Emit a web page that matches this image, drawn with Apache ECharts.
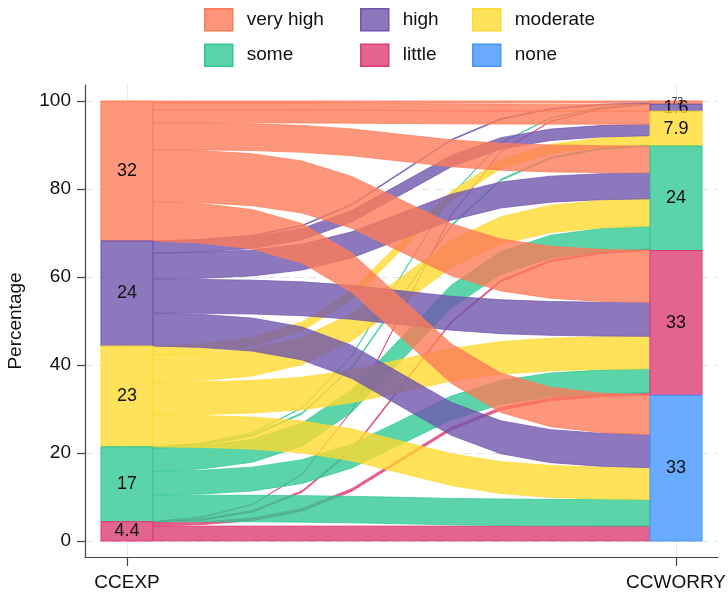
<!DOCTYPE html>
<html>
<head>
<meta charset="utf-8">
<script src="https://cdn.jsdelivr.net/npm/echarts@6/dist/echarts.min.js"></script>
<style>
  html, body { margin: 0; padding: 0; background: #fff; }
  #main { width: 728px; height: 594px; }
</style>
</head>
<body>
<div id="main"></div>
<script>
// levels of both variables, top to bottom
var levels = ["very high", "high", "moderate", "some", "little", "none"];
var axisNames = ["CCEXP", "CCWORRY"];
var yTicks = [0, 20, 40, 60, 80, 100];
// percent of all respondents going from a CCEXP level (left) to each CCWORRY level (right)
var fromVeryHigh = [0.4, 1.6, 2.95, 6.1, 11.8, 8.95];
var fromHigh     = [0.2, 0, 2.6, 5.9, 7.7, 7.5];
var fromModerate = [0, 0, 2.05, 6.2, 7.4, 7.25];
var fromSome     = [0.08, 0, 0.3, 5.2, 5.4, 6.02];
var fromLittle   = [0.05, 0, 0, 0.35, 0.6, 3.4];
var flows = [fromVeryHigh, fromHigh, fromModerate, fromSome, fromLittle];

var baseColors = ["#fc7c59", "#7056ae", "#ffd931", "#31c992", "#dd3d76", "#4497ff"];
var FONT = "Liberation Sans, Arial, sans-serif";
var HALF_W = 0.0474; // half width of the node bars (x units)

function rgba(hex, a) {
  var n = parseInt(hex.slice(1), 16);
  return "rgba(" + (n >> 16) + "," + ((n >> 8) & 255) + "," + (n & 255) + "," + a + ")";
}

// node totals and stacking
var leftTot = flows.map(function (r) { return r.reduce(function (a, b) { return a + b; }, 0); });
var rightTot = levels.map(function (_, j) {
  return flows.reduce(function (a, r) { return a + r[j]; }, 0);
});
function tops(tot) {
  var out = [], y = 100;
  tot.forEach(function (v) { out.push(y); y -= v; });
  return out;
}
var leftTop = tops(leftTot);
var rightTop = tops(rightTot);

function flowEnds(i, j) {
  var l = leftTop[i], r = rightTop[j];
  for (var k = 0; k < j; k++) l -= flows[i][k];
  for (var k2 = 0; k2 < i; k2++) r -= flows[k2][j];
  return { l: l, r: r, v: flows[i][j] };
}

function sig(t) {
  var k = 10, s0 = 1 / (1 + Math.exp(k * 0.5)), s1 = 1 / (1 + Math.exp(-k * 0.5));
  return (1 / (1 + Math.exp(-k * (t - 0.5))) - s0) / (s1 - s0);
}

function fmt(v) {
  var s = String(Number(v.toPrecision(2)));
  return s.charAt(0) === "0" ? s.slice(1) : s;
}

var myChart = echarts.init(document.getElementById("main"));

var series = [];
// ribbons, drawn little first so very high ends on top
for (var i = flows.length - 1; i >= 0; i--) {
  series.push({
    type: "custom",
    coordinateSystem: "cartesian2d",
    silent: true,
    z: 2,
    data: flows[i].map(function (v, j) { return [i, j, v]; }).filter(function (d) { return d[2] > 0; }),
    renderItem: function (params, api) {
      var e = flowEnds(api.value(0), api.value(1));
      var x0 = HALF_W, x1 = 1 - HALF_W, topPts = [], botPts = [];
      for (var s = 0; s <= 10; s++) {
        var t = s / 10, f = sig(t), x = x0 + (x1 - x0) * t;
        var yt = e.l + (e.r - e.l) * f;
        topPts.push(api.coord([x, yt]));
        botPts.unshift(api.coord([x, yt - e.v]));
      }
      var c = baseColors[api.value(0)];
      return {
        type: "polygon",
        shape: { points: topPts.concat(botPts) },
        style: { fill: rgba(c, 0.8), stroke: rgba(c, 0.8), lineWidth: 0.9 }
      };
    }
  });
}

// nodes, one series per level (also feeds the legend)
levels.forEach(function (name, c) {
  var data = [];
  if (c < flows.length) data.push([0, c, leftTot[c]]);
  data.push([1, c, rightTot[c]]);
  series.push({
    name: name,
    type: "custom",
    coordinateSystem: "cartesian2d",
    silent: true,
    z: 5,
    itemStyle: { color: rgba(baseColors[c], 0.8) },
    data: data,
    renderItem: function (params, api) {
      var side = api.value(0), k = api.value(1), v = api.value(2);
      var top = side === 0 ? leftTop[k] : rightTop[k];
      var p0 = api.coord([side - HALF_W, top]);
      var p1 = api.coord([side + HALF_W, top - v]);
      var col = baseColors[k];
      return {
        type: "group",
        children: [
          {
            type: "rect",
            shape: { x: p0[0], y: p0[1], width: p1[0] - p0[0], height: p1[1] - p0[1] },
            style: { fill: rgba(col, 0.8), stroke: col, lineWidth: 1 }
          },
          {
            type: "text",
            x: (p0[0] + p1[0]) / 2,
            y: (p0[1] + p1[1]) / 2,
            style: {
              text: fmt(v),
              fontSize: v < 1 ? 10 : 18,
              fontFamily: FONT,
              fill: "#111",
              align: "center",
              verticalAlign: "middle"
            }
          }
        ]
      };
    }
  });
});

function legendItem(k) {
  return {
    name: levels[k],
    icon: "rect",
    itemStyle: { color: rgba(baseColors[k], 0.8), borderColor: baseColors[k], borderWidth: 1.5 }
  };
}
function legendCol(left, items) {
  return {
    left: left,
    top: 8,
    padding: 0,
    orient: "vertical",
    itemWidth: 28,
    itemHeight: 22,
    itemGap: 12,
    selectedMode: false,
    data: items.map(legendItem),
    textStyle: { fontSize: 19, color: "#111", fontFamily: FONT, padding: [0, 0, 0, 9] }
  };
}

var option = {
  animation: false,
  textStyle: { fontFamily: FONT },
  legend: [legendCol(204, [0, 3]), legendCol(360, [1, 4]), legendCol(472, [2, 5])],
  grid: { left: 85, right: 10, top: 85, bottom: 37, outerBoundsMode: "none" },
  xAxis: {
    type: "value",
    min: -0.0765,
    max: 1.0765,
    axisLine: { show: true, onZero: false, lineStyle: { color: "#444", width: 1.2 } },
    axisTick: { show: true, customValues: [0, 1], length: 9, lineStyle: { color: "#444", width: 1.2 } },
    axisLabel: {
      customValues: [0, 1],
      formatter: function (v) { return axisNames[Math.round(v)]; },
      fontSize: 19, color: "#111", margin: 16
    },
    splitLine: { show: true, lineStyle: { color: "#e8e8e8", width: 1 } }
  },
  yAxis: {
    type: "value",
    min: -3.636,
    max: 103.636,
    name: "Percentage",
    nameLocation: "middle",
    nameGap: 60,
    nameRotate: 90,
    nameTextStyle: { fontSize: 19, color: "#111" },
    axisLine: { show: true, onZero: false, lineStyle: { color: "#444", width: 1.2 } },
    axisTick: { show: true, customValues: yTicks, length: 8, lineStyle: { color: "#444", width: 1.2 } },
    axisLabel: { customValues: yTicks, fontSize: 19, color: "#111", margin: 14 },
    splitLine: { show: true, lineStyle: { color: "#e3e3e3", type: [8, 6], width: 1 } }
  },
  series: series
};

myChart.setOption(option);
window.addEventListener("resize", function () {
  myChart.resize();
});
</script>
</body>
</html>
